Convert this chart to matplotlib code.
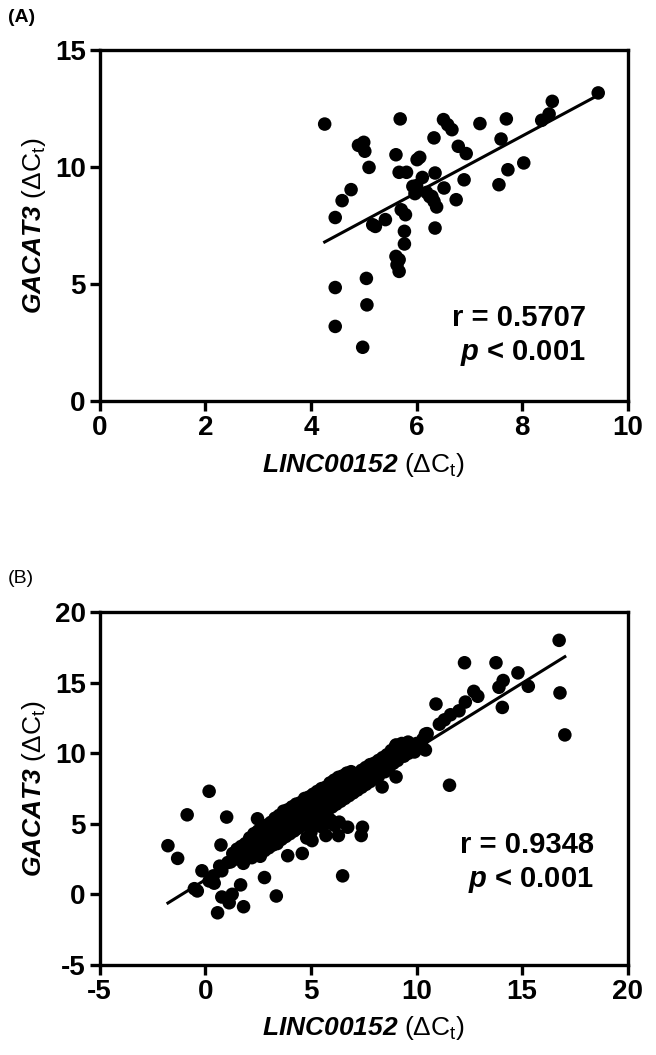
import numpy as np
import matplotlib
matplotlib.use('Agg')
import matplotlib.pyplot as plt

FONT = 'Liberation Sans'
plt.rcParams['font.family'] = [FONT, 'DejaVu Sans']
plt.rcParams['mathtext.fontset'] = 'custom'
plt.rcParams['mathtext.rm'] = FONT
plt.rcParams['mathtext.it'] = FONT + ':italic'
plt.rcParams['mathtext.bf'] = FONT + ':bold'
plt.rcParams['mathtext.bfit'] = FONT + ':italic:bold'

# panel A: LINC00152 vs GACAT3 (dCt)
a_x = [4.26, 4.46, 4.59, 4.76, 4.46, 4.46, 4.98, 5.05, 5.06, 4.90, 5.00, 5.02, 5.10,
       5.17, 5.22, 5.41, 5.61, 5.69, 5.67, 5.81, 5.71, 5.79, 5.77, 5.77, 5.61, 5.67,
       5.63, 5.67, 5.93, 5.97, 6.01, 6.06, 6.11, 6.19, 6.29, 6.33, 6.38, 6.33, 6.35,
       6.35, 6.51, 6.59, 6.67, 6.52, 6.75, 6.79, 6.94, 6.90, 7.20, 7.60, 7.70, 7.56,
       7.73, 8.03, 8.37, 8.51, 8.57, 9.44, 6.00, 6.25]
a_y = [11.82, 7.83, 8.55, 9.02, 4.84, 3.18, 2.29, 5.23, 4.10, 10.91, 11.04, 10.66, 9.97,
       7.52, 7.45, 7.74, 10.51, 12.04, 9.76, 9.76, 8.16, 7.95, 7.24, 6.70, 6.17, 6.03,
       5.81, 5.53, 9.16, 8.85, 10.30, 10.40, 9.54, 8.90, 8.73, 8.52, 8.28, 11.23, 9.73,
       7.38, 12.01, 11.79, 11.58, 9.09, 8.59, 10.87, 10.56, 9.44, 11.84, 11.18, 12.04, 9.23,
       9.87, 10.16, 11.98, 12.25, 12.79, 13.15, 9.19, 8.72]
a_fit = (1.21, 1.63)
a_r = '0.5707'

# panel B: outliers and the dense band around the fit
b_x = [16.75, 12.27, 13.76, 14.80, 15.29, 16.79, 17.02, 14.06, 14.10, 13.90, 12.71, 12.90,
       12.31, 10.92, 11.56, 12.01, 11.61, 11.32, 11.08, 10.42, 10.42, 0.18, -0.86, 1.01,
       2.47, -1.77, -1.31, -0.16, 0.74, -0.52, -0.38, 0.42, 0.78, 0.58, 1.13, 1.27, 1.67,
       1.81, 2.80, 3.36, 6.50, 3.90, 4.59, 7.38, 7.44, 6.74, 6.30, 5.71, 5.85, 6.34, 5.05,
       9.03, 8.37, 9.03, 0.18, 0.38, 0.78, 1.07, 0.68, 5.00, 5.25, 5.55, 5.95, 4.80, 6.10,
       1.2, 1.3, 1.4, 1.5, 1.6, 1.7, 1.8, 1.8, 1.9, 2.0, 2.0, 2.1, 2.1, 2.2, 2.2, 2.3, 2.3,
       2.4, 2.4, 2.5, 2.5, 2.6, 2.6, 2.7, 2.7, 2.8, 2.8, 2.9, 2.9, 3.0, 3.0, 3.1, 3.1, 3.2,
       3.2, 3.3, 3.3, 3.4, 3.4, 3.5, 3.5, 3.6, 3.6, 3.7, 3.7, 3.8, 3.8, 3.9, 3.9, 4.0, 4.0,
       4.1, 4.1, 4.2, 4.2, 4.3, 4.3, 4.4, 4.4, 4.5, 4.5, 4.6, 4.6, 4.7, 4.7, 4.8, 4.8, 4.9,
       4.9, 5.0, 5.0, 5.1, 5.1, 5.2, 5.2, 5.3, 5.3, 5.4, 5.4, 5.5, 5.5, 5.6, 5.6, 5.7, 5.7,
       5.8, 5.8, 5.9, 5.9, 6.0, 6.0, 6.1, 6.1, 6.2, 6.2, 6.3, 6.3, 6.4, 6.4, 6.5, 6.5, 6.6,
       6.6, 6.7, 6.7, 6.8, 6.8, 6.9, 6.9, 7.0, 7.0, 7.1, 7.2, 7.2, 7.3, 7.4, 7.4, 7.5, 7.6,
       7.6, 7.7, 7.8, 7.8, 7.9, 8.0, 8.0, 8.1, 8.2, 8.2, 8.3, 8.4, 8.5, 8.5, 8.6, 8.7, 8.8,
       8.8, 8.9, 9.0, 9.0, 9.1, 9.2, 9.3, 9.4, 9.5, 9.6, 9.6, 9.8, 9.9, 10.0, 10.2, 10.3,
       10.5]
b_y = [18.02, 16.43, 16.43, 15.71, 14.76, 14.29, 11.31, 13.26, 15.17, 14.69, 14.40, 14.05,
       13.64, 13.50, 7.74, 13.02, 12.74, 12.38, 12.07, 11.36, 10.24, 7.31, 5.64, 5.48,
       5.36, 3.45, 2.55, 1.67, 3.50, 0.40, 0.24, 0.79, -0.19, -1.31, -0.60, 0.00, 0.67,
       -0.88, 1.19, -0.12, 1.31, 2.74, 2.90, 4.17, 4.76, 4.76, 4.17, 4.17, 5.36, 5.12, 3.81,
       8.33, 7.62, 10.60, 0.95, 1.31, 1.67, 2.26, 2.00, 4.40, 4.88, 4.76, 5.24, 4.00, 4.90,
       2.3, 2.9, 2.5, 3.2, 2.7, 3.4, 2.2, 3.0, 3.6, 2.8, 3.3, 4.0, 3.1, 2.6, 3.6, 4.3, 3.2,
       2.9, 3.8, 4.5, 3.4, 2.7, 4.0, 3.6, 4.6, 3.1, 4.2, 3.7, 4.9, 3.3, 4.3, 4.0, 5.1, 3.5,
       4.6, 4.1, 5.4, 3.6, 4.8, 4.3, 5.6, 3.9, 5.0, 4.5, 5.9, 4.1, 5.2, 4.7, 6.0, 4.3, 5.4,
       4.9, 6.2, 4.5, 5.6, 5.1, 6.4, 4.7, 5.8, 5.3, 6.5, 4.9, 6.0, 5.5, 6.8, 5.0, 6.2, 5.7,
       6.9, 5.2, 6.4, 5.9, 7.1, 5.4, 6.6, 6.1, 7.3, 5.6, 6.8, 6.3, 7.5, 5.8, 7.0, 6.5, 7.6,
       6.0, 7.2, 6.7, 7.9, 6.2, 7.4, 6.9, 8.1, 6.4, 7.6, 7.1, 8.3, 6.6, 7.8, 7.3, 8.4, 6.8,
       8.0, 7.5, 8.6, 7.0, 8.2, 7.7, 8.7, 7.2, 8.3, 7.9, 8.5, 7.4, 8.1, 8.8, 7.6, 8.3, 9.0,
       7.8, 8.5, 9.2, 8.0, 8.7, 9.3, 8.2, 8.9, 9.5, 8.4, 9.1, 9.7, 8.7, 9.3, 9.9, 9.0, 9.6,
       10.2, 9.3, 9.9, 10.5, 9.5, 10.1, 10.7, 9.8, 10.4, 10.0, 10.8, 10.5, 10.1, 10.7, 10.4, 11.0,
       11.4]
b_fit = (0.93, 1.03)
b_r = '0.9348'

tick_font = {'family': FONT, 'weight': 'bold', 'size': 20}
label_size = 19
stat_size = 21


def corr_panel(ax, xs, ys, fit, r_text, xlim, ylim, xticks, yticks, xlab, ylab, text_xy):
    xs = np.array(xs)
    ys = np.array(ys)
    ax.scatter(xs, ys, s=95, color='black', edgecolors='none', zorder=3)
    lx = np.array([xs.min(), xs.max()])
    ax.plot(lx, fit[0] * lx + fit[1], color='black', lw=2.2, zorder=2)
    ax.set_xlim(*xlim)
    ax.set_ylim(*ylim)
    ax.set_xticks(xticks)
    ax.set_yticks(yticks)
    ax.set_xticklabels([str(t) for t in xticks], fontdict=tick_font)
    ax.set_yticklabels([str(t) for t in yticks], fontdict=tick_font)
    for sp in ax.spines.values():
        sp.set_linewidth(2.4)
    ax.tick_params(direction='out', length=7, width=2.4, pad=3)
    ax.set_xlabel(xlab, fontsize=label_size, labelpad=7)
    ax.set_ylabel(ylab, fontsize=label_size, labelpad=5)
    ax.text(text_xy[0], text_xy[1], 'r = ' + r_text, ha='right', va='center',
            fontsize=stat_size, fontweight='bold')
    ax.text(text_xy[0], text_xy[2], r'$\mathbfit{p}$ < 0.001', ha='right', va='center',
            fontsize=stat_size, fontweight='bold')


fig = plt.figure(figsize=(6.56, 10.55), dpi=100)
ax_a = fig.add_axes([0.152, 0.620, 0.805, 0.333])
ax_b = fig.add_axes([0.152, 0.0855, 0.805, 0.334])

xlab = r'$\mathbfit{LINC00152}$ ($\Delta$C$_\mathrm{t}$)'
ylab = r'$\mathbfit{GACAT3}$ ($\Delta$C$_\mathrm{t}$)'

corr_panel(ax_a, a_x, a_y, a_fit, a_r, (0, 10), (0, 15), [0, 2, 4, 6, 8, 10], [0, 5, 10, 15],
           xlab, ylab, (9.2, 3.55, 2.05))
corr_panel(ax_b, b_x, b_y, b_fit, b_r, (-5, 20), (-5, 20), [-5, 0, 5, 10, 15, 20],
           [-5, 0, 5, 10, 15, 20], xlab, ylab, (18.4, 3.5, 1.0))

fig.text(0.012, 0.983, '(A)', fontsize=14, fontweight='bold', va='center')
fig.text(0.012, 0.452, '(B)', fontsize=14, va='center')

fig.savefig('out.png', dpi=100)
